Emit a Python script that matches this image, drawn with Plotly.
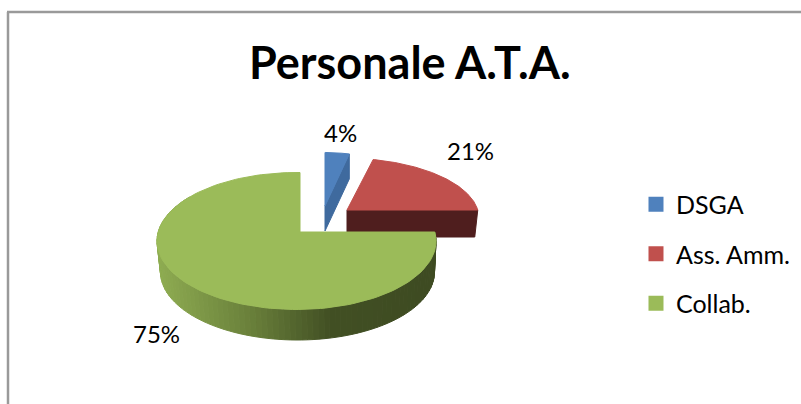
import numpy as np
import plotly.graph_objects as go

categories = ["DSGA", "Ass. Amm.", "Collab."]
values = [4, 21, 75]
top_colors = ["#4F81BD", "#C0504D", "#9BBB59"]
wall_colors = ["#3F6A9E", "#4F1E1E", None]
title = "Personale A.T.A."

# 3D-look projection settings (the plot area uses one unit per pixel)
W, H = 801, 404
apexes = [(325, 206), (347, 210), (300, 232)]
radius_scale = [0.90, 0.97, 1.0]
height_scale = [1.0, 0.90, 1.0]
depths = [25, 27, 30]
label_pos = [(340, 132), (470, 150), (156, 333)]
EC = (-3.5, 9.0)
RX, RY, K = 139.5, 68.5, 0.55
BOT = (297.5, 272.0, 137.0, 68.0)

def rim(apex, angle_deg, scale, yscale=1.0):
    a = np.radians(angle_deg)
    dx, dy = np.sin(a), -np.cos(a) * K
    A = (dx / RX) ** 2 + (dy / RY) ** 2
    B = 2 * (-EC[0] * dx / RX ** 2 - EC[1] * dy / RY ** 2)
    C = (EC[0] / RX) ** 2 + (EC[1] / RY) ** 2 - 1
    s = (-B + np.sqrt(B ** 2 - 4 * A * C)) / (2 * A) * scale
    return apex[0] + s * dx, apex[1] + s * dy * yscale

def mix(stops, f):
    xs = [p for p, _ in stops]
    cs = np.array([c for _, c in stops], float)
    return "rgb(%d,%d,%d)" % tuple(np.interp(f, xs, cs[:, i]) for i in range(3))

# shade of the green wall, from its right end (0) to its left end (1)
green_wall = [(0, (62, 75, 34)), (0.38, (66, 80, 36)), (0.65, (104, 126, 58)), (1, (143, 173, 82))]

fig = go.Figure()
cum = np.cumsum([0] + values) * 3.6
order = [1, 0, 2]
for i in order:
    a0, a1 = cum[i], cum[i + 1]
    ang = np.linspace(a0, a1, 120)
    ap, sc, d = apexes[i], radius_scale[i], depths[i]
    pts = [rim(ap, a, sc, height_scale[i]) for a in ang]
    px = [p[0] for p in pts]
    py = [p[1] for p in pts]
    if i == 2:
        seg = np.linspace(a0, 300, 90)
        cx, cy = ap[0] + EC[0], ap[1] + EC[1]
        for s0, s1 in zip(seg[:-1], seg[1:]):
            p0, p1 = rim(ap, s0, sc), rim(ap, s1, sc)
            q0 = (BOT[0] + (p0[0] - cx) * BOT[2] / RX, BOT[1] + (p0[1] - cy) * BOT[3] / RY)
            q1 = (BOT[0] + (p1[0] - cx) * BOT[2] / RX, BOT[1] + (p1[1] - cy) * BOT[3] / RY)
            col = mix(green_wall, (436 - (p0[0] + p1[0]) / 2) / 280)
            fig.add_trace(go.Scatter(x=[p0[0], p1[0], q1[0], q0[0], p0[0]],
                                     y=[p0[1], p1[1], q1[1], q0[1], p0[1]],
                                     mode="lines", fill="toself", fillcolor=col,
                                     line=dict(color=col, width=1), showlegend=False, hoverinfo="skip"))
    else:
        inset = 3 if i == 1 else 0
        wx = [ap[0], px[-1], px[-1] - inset, ap[0]]
        wy = [ap[1], py[-1], py[-1] + d, ap[1] + d]
        fig.add_trace(go.Scatter(x=wx + wx[:1], y=wy + wy[:1], mode="lines", fill="toself",
                                 fillcolor=wall_colors[i], line=dict(color=wall_colors[i], width=1),
                                 showlegend=False, hoverinfo="skip"))
    fig.add_trace(go.Scatter(x=[ap[0]] + px + [ap[0]], y=[ap[1]] + py + [ap[1]],
                             mode="lines", fill="toself", fillcolor=top_colors[i],
                             line=dict(color=top_colors[i], width=1),
                             name=categories[i], showlegend=False,
                             hovertemplate=f"{categories[i]}: {values[i]}%<extra></extra>"))

for i, c in enumerate(categories):
    fig.add_trace(go.Scatter(x=[None], y=[None], mode="markers", name=c, legendgroup=c,
                             marker=dict(symbol="square", size=15, color=top_colors[i])))
    x, y = label_pos[i]
    fig.add_annotation(x=x, y=y, text=f"{values[i]}%", showarrow=False,
                       font=dict(family="Lato", size=24, color="#000000"))

fig.add_annotation(x=410, y=62, text=f"<b>{title}</b>", showarrow=False,
                   font=dict(family="Lato", size=45, color="#000000"))

fig.add_shape(type="line", x0=8, x1=8, y0=12, y1=H, line=dict(color="#9A9A9A", width=2.5))
fig.add_shape(type="line", x0=7, x1=W, y0=12, y1=12, line=dict(color="#9A9A9A", width=2.5))

fig.update_layout(
    width=W, height=H, margin=dict(l=0, r=0, t=0, b=0),
    paper_bgcolor="white", plot_bgcolor="white",
    xaxis=dict(range=[0, W], visible=False, fixedrange=True),
    yaxis=dict(range=[H, 0], visible=False, fixedrange=True),
    legend=dict(x=0.794, y=0.371, xanchor="left", yanchor="middle",
                font=dict(family="Lato", size=25, color="#000000"),
                tracegroupgap=14, traceorder="grouped", bgcolor="rgba(0,0,0,0)"),
)
fig.write_html("out.html", config={"displayModeBar": False},
               post_script="document.body.style.margin='0';document.documentElement.style.overflow='hidden';")
